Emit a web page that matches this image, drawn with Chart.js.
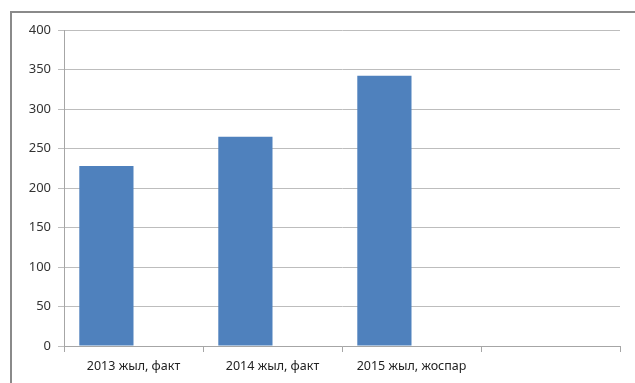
<!DOCTYPE html>
<html>
<head>
<meta charset="utf-8">
<script src="https://cdn.jsdelivr.net/npm/chart.js@4"></script>
<style>
    html, body { margin: 0; padding: 0; background: #fff; overflow: hidden; }
    #wrap { position: relative; width: 635px; height: 383px; }
    #frame {
        position: absolute; left: 10px; top: 11px; width: 700px; height: 500px;
        border: 2px solid #8a8a8a; box-sizing: border-box;
    }
    #box { position: absolute; left: 0; top: 0; width: 635px; height: 383px; }
</style>
</head>
<body>
<div id="wrap">
    <div id="frame"></div>
    <div id="box"><canvas id="myChart"></canvas></div>
</div>
<script>
const labels = ['2013 жыл, факт', '2014 жыл, факт', '2015 жыл, жоспар', ''];
const values = [228, 265, 342, null];
const emptySeries = [null, null, null, null];
const yTicks = [0, 50, 100, 150, 200, 250, 300, 350, 400];

window.onload = function () {
    var context = document.getElementById('myChart').getContext('2d');

    const data = {
        labels: labels,
        datasets: [{
            label: 'Ряд 1',
            backgroundColor: '#4f81bd',
            data: values
        }, {
            label: 'Ряд 2',
            backgroundColor: '#c0504d',
            data: emptySeries
        }]
    };

    const config = {
        type: 'bar',
        data: data,
        options: {
            responsive: true,
            maintainAspectRatio: false,
            animation: false,
            layout: {
                padding: { top: 30, right: 15, bottom: 0, left: 0 }
            },
            datasets: {
                bar: { categoryPercentage: 0.78, barPercentage: 1 }
            },
            plugins: {
                legend: { display: false },
                tooltip: { enabled: false }
            },
            scales: {
                x: {
                    grid: {
                        offset: true,
                        drawOnChartArea: false,
                        tickLength: 6,
                        color: '#a6a6a6'
                    },
                    border: { color: '#a6a6a6' },
                    ticks: {
                        color: '#222',
                        font: { family: 'Noto Sans', size: 12.5 },
                        maxRotation: 0,
                        padding: 7
                    },
                    afterFit: function (scale) { scale.height = 37; }
                },
                y: {
                    min: 0,
                    max: 400,
                    afterBuildTicks: function (scale) {
                        scale.ticks = yTicks.map(v => ({ value: v }));
                    },
                    grid: {
                        color: '#bdbdbd',
                        tickLength: 6
                    },
                    border: { color: '#a6a6a6' },
                    ticks: {
                        color: '#333',
                        font: { family: 'Noto Sans', size: 13 },
                        padding: 7
                    },
                    afterFit: function (scale) { scale.width = 64; }
                }
            }
        }
    };

    const barChart = new Chart(context, config);
};
</script>
</body>
</html>
